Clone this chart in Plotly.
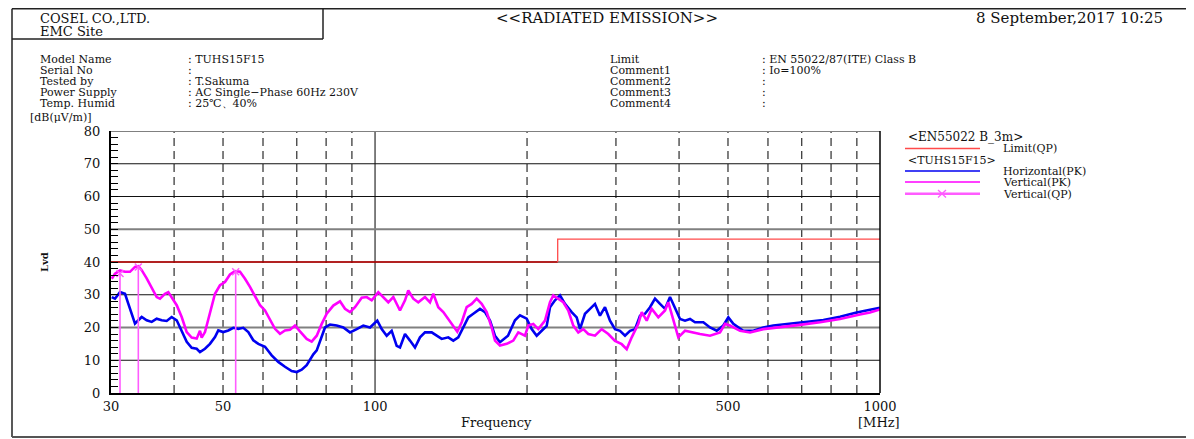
import math
import plotly.graph_objects as go

# ---------------- data ----------------
h_freq = [30.10, 30.55, 31.26, 31.98, 32.46, 32.97, 33.47, 33.98, 34.51, 35.30, 36.12, 36.95, 37.80, 38.67,
          39.56, 40.48, 41.41, 42.37, 43.34, 44.34, 45.01, 46.05, 47.11, 48.20, 48.93, 50.06, 51.21, 52.40,
          53.61, 54.84, 56.11, 57.40, 58.73, 60.55, 62.42, 64.33, 66.32, 68.38, 69.96, 71.57, 73.22, 75.47,
          76.65, 77.81, 79.60, 81.44, 83.96, 86.53, 89.21, 91.98, 94.79, 97.73, 101.03, 103.08, 105.46,
          107.89, 110.38, 112.05, 114.64, 117.28, 119.98, 122.75, 125.58, 129.48, 132.46, 135.52, 139.66,
          142.88, 146.17, 149.55, 152.99, 156.52, 161.38, 165.10, 168.91, 172.80, 176.79, 183.35, 189.30,
          193.67, 199.68, 204.28, 208.99, 213.81, 218.74, 222.06, 227.18, 232.42, 237.78, 245.15, 250.81,
          254.61, 260.48, 266.49, 272.64, 278.92, 285.36, 291.94, 298.71, 305.59, 312.64, 319.85, 327.23,
          334.77, 342.49, 350.39, 358.47, 366.74, 375.20, 383.85, 392.70, 401.76, 411.03, 420.51, 430.20,
          446.80, 460.66, 474.95, 489.46, 500.75, 512.30, 536.20, 561.22, 587.40, 614.80, 663.45, 715.94,
          772.41, 833.20, 898.75, 955.51, 1000.0]
h_level = [29.3, 28.8, 30.8, 30.3, 27.3, 24.2, 21.2, 22.2, 23.2, 22.2, 21.7, 22.7, 22.2, 22.0,
           23.2, 22.2, 19.1, 15.6, 13.8, 13.5, 12.5, 13.5, 15.0, 17.1, 19.1, 18.6, 19.1, 19.9,
           19.6, 19.9, 18.6, 16.1, 15.0, 14.1, 11.5, 9.5, 8.0, 6.7, 6.4, 7.1, 8.5, 11.8,
           13.0, 16.0, 20.0, 20.9, 20.6, 20.0, 18.5, 19.5, 20.6, 20.0, 22.1, 19.5, 17.5,
           19.0, 14.4, 13.9, 18.0, 16.0, 13.9, 17.0, 18.5, 18.5, 17.5, 16.5, 17.0,
           16.0, 17.0, 20.0, 23.1, 24.2, 25.7, 24.7, 22.1, 17.5, 15.5, 17.5, 22.2,
           23.7, 22.7, 19.5, 17.5, 19.0, 20.5, 26.2, 28.3, 29.8, 27.2, 24.7, 23.1,
           19.5, 24.2, 25.7, 27.2, 23.6, 26.2, 22.1, 19.5, 19.0, 17.5, 19.0, 19.5,
           23.6, 24.2, 26.2, 28.8, 27.2, 25.7, 29.3, 25.7, 22.6, 22.1, 22.6, 21.6,
           21.6, 20.0, 19.0, 20.6, 23.1, 21.1, 19.0, 19.0, 20.0, 20.6, 21.1, 21.6,
           22.3, 23.3, 24.6, 25.4, 26.0]

v_freq = [30.10, 30.55, 31.26, 31.98, 32.71, 33.47, 33.98, 34.51, 35.30, 35.84, 36.38, 36.95, 37.51, 38.37,
          38.96, 39.56, 40.48, 41.41, 42.37, 43.34, 44.34, 45.01, 45.36, 46.05, 47.11, 48.20, 49.31, 50.45,
          51.61, 52.80, 54.02, 55.27, 56.54, 57.85, 59.18, 60.55, 61.94, 63.37, 64.83, 66.32, 67.85, 69.42,
          71.02, 73.22, 74.91, 76.65, 78.41, 80.22, 82.67, 85.24, 87.20, 89.21, 91.27, 94.10, 96.27, 98.49,
          101.50, 103.84, 106.23, 108.68, 112.05, 114.64, 116.37, 119.06, 121.80, 125.58, 128.48, 130.43,
          133.43, 136.51, 139.66, 142.88, 145.51, 148.46, 151.88, 155.38, 158.97, 162.63, 166.38, 170.22,
          172.80, 176.79, 182.27, 187.84, 192.17, 198.13, 201.14, 205.78, 210.52, 217.05, 222.06, 225.42,
          230.62, 235.94, 241.38, 246.95, 252.65, 258.47, 264.43, 272.64, 281.09, 289.68, 298.71, 307.97,
          315.07, 322.34, 332.19, 337.38, 345.16, 353.12, 363.91, 375.20, 380.89, 389.67, 398.66, 411.03,
          423.78, 440.13, 460.66, 482.15, 493.27, 504.65, 528.19, 552.83, 587.40, 633.88, 694.40, 760.87,
          833.20, 912.38, 955.51, 1000.0]
v_level = [34.9, 36.4, 37.4, 37.0, 37.0, 38.5, 38.7, 37.5, 35.0, 33.0, 31.4, 29.3, 28.8, 30.3,
           30.8, 29.3, 26.8, 23.2, 18.6, 16.9, 16.6, 19.0, 16.9, 18.6, 24.2, 30.3, 32.9, 33.9,
           36.2, 37.2, 37.0, 34.9, 32.4, 29.8, 26.8, 25.2, 22.2, 19.6, 18.1, 19.1, 19.3, 20.6,
           18.8, 16.5, 15.7, 17.5, 21.1, 24.2, 26.7, 28.0, 25.7, 24.7, 26.2, 29.1, 29.3, 28.3,
           30.8, 29.3, 27.7, 29.3, 25.2, 28.3, 31.3, 28.8, 27.7, 29.3, 27.7, 30.3,
           26.2, 24.7, 22.6, 20.6, 18.7, 21.6, 26.2, 27.2, 28.8, 27.2, 24.7, 20.0,
           16.0, 14.5, 15.0, 16.0, 18.5, 17.5, 20.6, 21.1, 19.5, 22.1, 27.7, 29.8,
           28.8, 27.7, 25.2, 20.6, 18.5, 19.5, 18.0, 17.5, 19.5, 18.0, 15.9, 14.9,
           13.4, 17.0, 21.1, 24.7, 22.1, 25.7, 23.1, 25.2, 27.7, 22.1, 17.0, 19.0,
           18.5, 18.0, 17.5, 18.5, 21.1, 20.6, 19.0, 18.5, 19.5, 20.0, 20.8, 21.6,
           22.6, 24.0, 24.6, 25.5]

qp_freq = [31.26, 33.98, 52.97]
qp_level = [36.5, 38.5, 37.0]

limit_freq = [30, 230, 230, 1000]
limit_level = [40, 40, 47, 47]

x_ticks = [30, 50, 100, 500, 1000]
y_ticks = [0, 10, 20, 30, 40, 50, 60, 70, 80]
grid_dashed_freq = [40, 50, 60, 70, 80, 90, 200, 300, 400, 500, 600, 700, 800, 900]
grid_solid_freq = [100]
grid_gray_levels = [20, 50, 80]
grid_black_levels = [10, 30, 40, 60, 70]

FONT = "DejaVu Serif"
BLUE = "#0000f0"
MAG = "#ff00ff"
PINK = "#ff5cff"

fig = go.Figure()

def vlines(freqs):
    xs, ys = [], []
    for f in freqs:
        xs += [f, f, None]
        ys += [0, 80, None]
    return xs, ys

def hlines(levels):
    xs, ys = [], []
    for v in levels:
        xs += [30, 1000, None]
        ys += [v, v, None]
    return xs, ys

gx, gy = vlines(grid_dashed_freq)
fig.add_trace(go.Scatter(x=gx, y=gy, mode="lines", line=dict(color="black", width=1, dash="8px,5px"),
                         hoverinfo="skip"))
gx, gy = vlines(grid_solid_freq)
fig.add_trace(go.Scatter(x=gx, y=gy, mode="lines", line=dict(color="black", width=1), hoverinfo="skip"))
gx, gy = hlines(grid_black_levels)
fig.add_trace(go.Scatter(x=gx, y=gy, mode="lines", line=dict(color="#111111", width=1), hoverinfo="skip"))
gx, gy = hlines(grid_gray_levels)
fig.add_trace(go.Scatter(x=gx, y=gy, mode="lines", line=dict(color="#808080", width=2), hoverinfo="skip"))

# limit
fig.add_trace(go.Scatter(x=limit_freq[:2], y=limit_level[:2], mode="lines",
                         line=dict(color="#c00000", width=1.3)))
fig.add_trace(go.Scatter(x=limit_freq[1:], y=limit_level[1:], mode="lines",
                         line=dict(color="#ff4a4a", width=1.3)))

# traces
fig.add_trace(go.Scatter(x=h_freq, y=h_level, mode="lines", line=dict(color=BLUE, width=2.6)))
fig.add_trace(go.Scatter(x=v_freq, y=v_level, mode="lines", line=dict(color=MAG, width=2.6)))

# QP stems
sx, sy = [], []
for f, v in zip(qp_freq, qp_level):
    sx += [f, f, None]
    sy += [0, v, None]
fig.add_trace(go.Scatter(x=sx, y=sy, mode="lines", line=dict(color=PINK, width=1.6)))
fig.add_trace(go.Scatter(x=qp_freq, y=qp_level, mode="markers",
                         marker=dict(symbol="x-thin", size=7, line=dict(color=PINK, width=1.5))))

# geometry (screen pixels of the reference); the page body adds an 8px offset
W, H = 1194, 439
OFF = 8
L, T = 111, 131            # plot area left/top on screen
PW, PH = 769, 262          # plot area size

def px(x):
    return (x - L) / PW

def py(y):
    return (T + PH - y) / PH

shapes = []
def seg(x0, y0, x1, y1, color="black", width=1):
    shapes.append(dict(type="line", xref="paper", yref="paper", x0=px(x0), y0=py(y0), x1=px(x1), y1=py(y1),
                       line=dict(color=color, width=width)))

# page frame
seg(12, 8.8, 1194, 8.8, "#222222", 1.5)
seg(12, 8.8, 12, 437, "#222222", 1.5)
seg(12, 437, 1194, 437, "#555555", 2)
seg(323, 8.8, 323, 39, "#222222", 1.5)
seg(12, 39, 323, 39, "#222222", 1.5)
# right plot border
seg(880, 131, 880, 393, "black", 1.5)

# legend samples
seg(905, 148.5, 980, 148.5, "#ff4a4a", 1.3)
seg(905, 171, 980, 171, BLUE, 1.5)
seg(905, 182, 980, 182, MAG, 1.5)
seg(905, 193.7, 980, 193.7, PINK, 2.5)
seg(938, 190, 946, 197.5, PINK, 1.3)
seg(938, 197.5, 946, 190, PINK, 1.3)

ann = []
def text(s, x, y, size=11, anchor="left", color="#111111", angle=0):
    ann.append(dict(text=s, xref="paper", yref="paper", x=px(x), y=py(y), xanchor=anchor, yanchor="middle",
                    showarrow=False, textangle=angle, font=dict(family=FONT, size=size, color=color)))

text("COSEL CO.,LTD.", 38, 18, 13)
text("EMC Site", 38, 31.5, 13)
text("&lt;&lt;RADIATED EMISSION&gt;&gt;", 607, 18, 15, "center")
text("8 September,2017 10:25", 1165, 18, 15, "right")

rows = [59.5, 70.5, 81.5, 92.5, 103.5]
left_labels = ["Model Name", "Serial No", "Tested by", "Power Supply", "Temp. Humid"]
left_values = [": TUHS15F15", ":", ": T.Sakuma", ": AC Single\u2212Phase 60Hz 230V", ": 25\u2103\u300140%"]
right_labels = ["Limit", "Comment1", "Comment2", "Comment3", "Comment4"]
right_values = [": EN 55022/87(ITE) Class B", ": Io=100%", ":", ":", ":"]
for r, a, b, c, d in zip(rows, left_labels, left_values, right_labels, right_values):
    text(a, 38, r, 11)
    text(b, 186, r, 11)
    text(c, 608, r, 11)
    text(d, 760, r, 11)

text("[dB(\u03bcV/m)]", 28, 117.5, 11)
text("<b>Lvd</b>", 44, 262, 10, "center", angle=-90)
text("Frequency", 496, 422, 13, "center")
text("[MHz]", 879, 422, 13, "center")

text("&lt;EN55022 B_3m&gt;", 906, 136.7, 12)
text("Limit(QP)", 1001, 148.5, 11)
text("&lt;TUHS15F15&gt;", 906, 160, 11)
text("Horizontal(PK)", 1001, 171.5, 11)
text("Vertical(PK)", 1001, 182.5, 11)
text("Vertical(QP)", 1001, 194, 11)

ml = L - OFF
mt = T - OFF
fig.update_layout(
    width=W, height=H,
    margin=dict(l=ml, r=W - ml - PW, t=mt, b=H - mt - PH, pad=0),
    paper_bgcolor="white", plot_bgcolor="white",
    showlegend=False,
    shapes=shapes, annotations=ann,
    xaxis=dict(type="log", range=[math.log10(30), math.log10(1000)], tickvals=x_ticks,
               ticktext=[str(t) for t in x_ticks], showgrid=False, zeroline=False,
               showline=True, linecolor="black", linewidth=2, ticks="",
               tickfont=dict(family=FONT, size=13, color="#111111")),
    yaxis=dict(range=[0, 80], tickvals=y_ticks, showgrid=False, zeroline=False,
               showline=True, linecolor="black", linewidth=2,
               ticks="inside", ticklen=7, tickcolor="black", tickwidth=1,
               minor=dict(dtick=2, tick0=0, ticks="inside", ticklen=7, tickcolor="black", showgrid=False),
               ticklabelstandoff=6,
               tickfont=dict(family=FONT, size=13, color="#111111")),
)

fig.write_html("out.html")
